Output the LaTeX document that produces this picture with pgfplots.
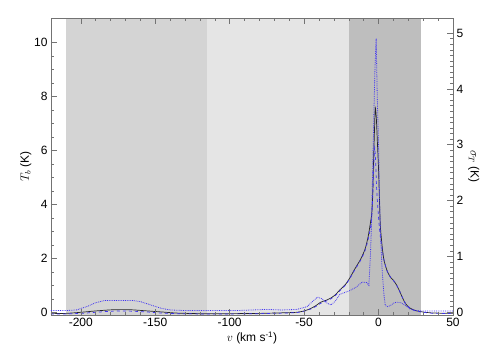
\documentclass[border=0pt]{standalone}
\usepackage{pgfplots}
\pgfplotsset{compat=1.18}
\usepackage{fontspec}
\setmainfont{Liberation Sans}
\definecolor{shA}{gray}{0.83}
\definecolor{shB}{gray}{0.90}
\definecolor{shC}{gray}{0.745}
\definecolor{mblue}{rgb}{0.25,0.2,0.95}
\definecolor{axc}{gray}{0.45}
\begin{document}
\begin{tikzpicture}
\pgfplotsset{
  common/.style={
    at={(0pt,0pt)}, anchor=south west,
    scale only axis, width=402pt, height=297pt,
    xmin=-220, xmax=50,
    /pgf/number format/assume math mode=true,
    tick label style={font=\fontsize{12}{14}\selectfont, text=black},
    label style={font=\fontsize{12}{14}\selectfont},
    axis line style={axc, line width=0.6pt},
    tick style={axc, line width=0.5pt},
    major tick length=6pt, minor tick length=3pt,
    tick align=inside,
  }
}
\begin{axis}[common,
  ymin=-0.1, ymax=10.9,
  xtick={-200,-150,...,50}, minor x tick num=4,
  ytick={0,2,...,10}, minor y tick num=3,
  xtick pos=both, ytick pos=left,
  axis on top,
  xlabel={$v$ (km s\textsuperscript{-1})},
  ylabel={$T_b$ (K)},
  xlabel style={yshift=2pt},
  ylabel style={yshift=-4pt},
]
\addplot[draw=none, fill=shA] coordinates {(-210,-0.1) (-115,-0.1) (-115,10.9) (-210,10.9)} -- cycle;
\addplot[draw=none, fill=shB] coordinates {(-115,-0.1) (-20,-0.1) (-20,10.9) (-115,10.9)} -- cycle;
\addplot[draw=none, fill=shC] coordinates {(-20,-0.1) (28.5,-0.1) (28.5,10.9) (-20,10.9)} -- cycle;
% T_b (solid black)
\addplot[black!85, line width=0.7pt, smooth, tension=0.4] coordinates {
(-220,-0.05) (-210,-0.04) (-200,0.0) (-190,0.05) (-180,0.09) (-172,0.1) (-165,0.09) (-155,0.05) (-145,0.01) (-135,-0.03) (-120,-0.05) (-100,-0.05) (-80,-0.04) (-65,-0.02) (-55,0.0) (-50,0.05) (-46,0.13) (-42,0.25) (-39,0.37) (-35,0.45) (-32,0.53) (-29,0.65) (-26,0.83) (-22,1.05) (-19,1.3) (-16,1.6) (-12,1.97) (-9,2.35) (-7,2.8) (-5.5,3.3) (-4.5,3.7) (-3.8,4.6) (-3.3,5.7) (-2.7,6.8) (-2.2,7.58) (-1.5,7.2) (-0.7,6.2) (0,5.3) (0.7,4.0) (1.2,3.2) (2.3,2.5) (3.4,2.0) (4.5,1.75) (6,1.5) (8,1.3) (10,1.18) (12,1.02) (14,0.8) (16,0.55) (18,0.33) (21,0.16) (25,0.06) (30,0.01) (35,-0.02) (40,-0.03) (50,-0.04)};
% model (dashed blue)
\addplot[mblue, line width=0.7pt, dashed, smooth, tension=0.4] coordinates {
(-220,-0.06) (-210,-0.06) (-200,-0.04) (-190,0.0) (-180,0.04) (-172,0.05) (-165,0.04) (-155,0.01) (-145,-0.03) (-135,-0.05) (-120,-0.06) (-100,-0.06) (-80,-0.05) (-65,-0.03) (-55,-0.01) (-50,0.04) (-46,0.11) (-42,0.22) (-39,0.33) (-35,0.42) (-32,0.5) (-29,0.62) (-26,0.8) (-22,1.02) (-19,1.28) (-16,1.57) (-12,1.93) (-9,2.3) (-7,2.7) (-5.5,3.1) (-4.5,3.6) (-3.8,4.4) (-3.2,5.4) (-2.6,6.1) (-2,5.6) (-1.3,4.6) (-0.5,3.9) (0.3,3.3) (1.2,2.8) (2.3,2.4) (3.4,2.0) (4.5,1.75) (6,1.5) (8,1.3) (10,1.18) (12,1.02) (14,0.8) (16,0.55) (18,0.33) (21,0.15) (25,0.05) (30,0.0) (35,-0.03) (40,-0.04) (50,-0.05)};
\end{axis}
\begin{axis}[common,
  ymin=-0.05, ymax=5.27,
  axis x line=none,
  axis y line*=right,
  ytick={0,1,...,5}, minor y tick num=9,
  ylabel={$\sigma_T$ (K)},
  ylabel style={rotate=180, yshift=-2pt},
]
% sigma_T (dotted blue)
\addplot[mblue, line width=0.8pt, densely dotted] coordinates {
(-220,0.03) (-210,0.03) (-203,0.04) (-196,0.1) (-190,0.17) (-184,0.21) (-175,0.21) (-165,0.21) (-160,0.19) (-153,0.13) (-146,0.07) (-140,0.04) (-130,0.03) (-110,0.03) (-95,0.03) (-85,0.04) (-75,0.05) (-65,0.04) (-55,0.05) (-48,0.1) (-44,0.2) (-41,0.27) (-38,0.24) (-35,0.17) (-32,0.13) (-29,0.2) (-26,0.32) (-22,0.36) (-19,0.39) (-15,0.45) (-11,0.54) (-8,0.53) (-6.5,0.48) (-5.5,1.0) (-4.8,1.5) (-3.5,3.1) (-2.5,4.3) (-1.6,4.9) (-0.9,3.9) (0,3.0) (0.7,2.0) (1.5,1.3) (2.3,0.8) (3.5,0.35) (4.5,0.12) (6,0.1) (8,0.12) (10,0.16) (12,0.18) (15,0.17) (18,0.12) (21,0.06) (25,0.03) (30,0.02) (50,0.02)};
\end{axis}
\path[use as bounding box] (-51pt,-45pt) rectangle (453pt,315pt);
\end{tikzpicture}
\end{document}
